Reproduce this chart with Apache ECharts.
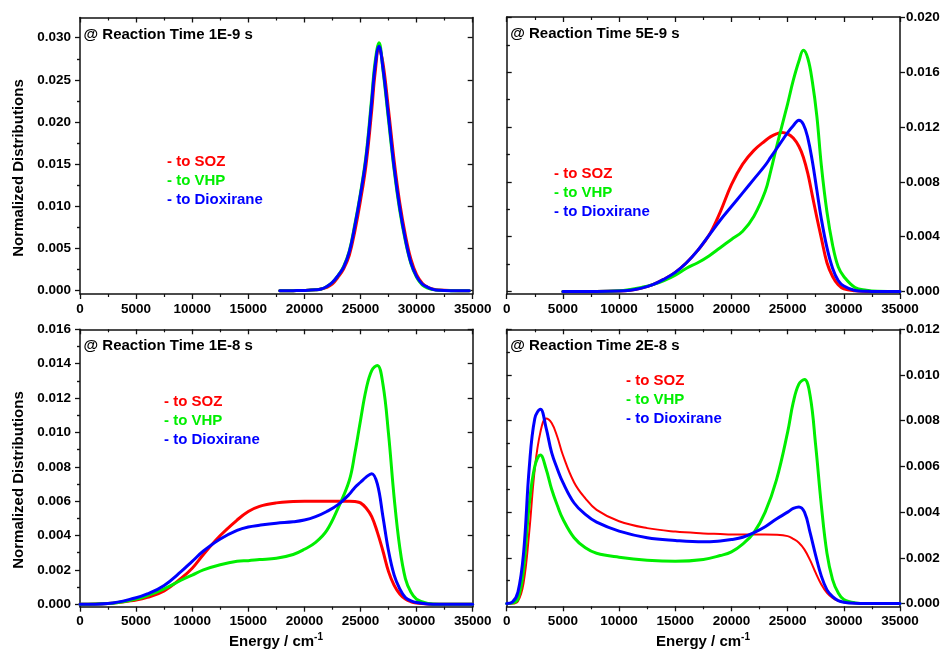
<!DOCTYPE html>
<html>
<head>
<meta charset="utf-8">
<title>Normalized Distributions vs Energy</title>
<script src="https://cdn.jsdelivr.net/npm/echarts@6/dist/echarts.min.js"></script>
<style>
  html, body { margin: 0; padding: 0; background: #ffffff; }
  #chart { width: 944px; height: 652px; }
</style>
</head>
<body>
<div id="chart"></div>
<script>
// ---------- data ----------
// Reaction time 1E-9 s
const energy1 = [17800, 19000, 20000, 21000, 21500, 22000, 22500, 23000, 23500, 24000, 24500, 25000, 25500, 26000, 26300, 26650, 27000, 27500, 28000, 28500, 29000, 29500, 30000, 30500, 31000, 31500, 32000, 33000, 34700];
const soz1 = [0, 0.00001, 0.00003, 0.0001, 0.0002, 0.0004, 0.0008, 0.0016, 0.0026, 0.0042, 0.0071, 0.0107, 0.0150, 0.0214, 0.0258, 0.0287, 0.0270, 0.0214, 0.0154, 0.0104, 0.0066, 0.0037, 0.0019, 0.0009, 0.0004, 0.00018, 0.00008, 0.00002, 0];
const vhp1 = [0, 0.00001, 0.00003, 0.0001, 0.0002, 0.0005, 0.0010, 0.0018, 0.0029, 0.0047, 0.0079, 0.0116, 0.0161, 0.0229, 0.0271, 0.0294, 0.0262, 0.0202, 0.0143, 0.0095, 0.0059, 0.0032, 0.0016, 0.0007, 0.0003, 0.00013, 0.00005, 0.00001, 0];
const diox1 = [0, 0.00001, 0.00003, 0.0001, 0.0002, 0.0005, 0.0010, 0.0018, 0.0028, 0.0046, 0.0077, 0.0114, 0.0158, 0.0224, 0.0266, 0.0290, 0.0264, 0.0206, 0.0146, 0.0098, 0.0061, 0.0033, 0.0017, 0.0008, 0.0004, 0.00015, 0.00006, 0.00001, 0];

// Reaction time 5E-9 s
const energy2 = [5000, 8000, 10000, 11000, 12000, 13000, 14000, 15000, 16000, 17000, 18000, 19000, 20000, 21000, 22000, 23000, 23500, 24000, 24500, 25000, 25500, 26000, 26400, 26800, 27200, 27600, 28000, 28500, 29000, 29500, 30000, 31000, 32000, 33000, 35000];
const soz2 = [0, 0, 0.00003, 0.0001, 0.00025, 0.0005, 0.0009, 0.0014, 0.0021, 0.0030, 0.0041, 0.0058, 0.0078, 0.0093, 0.0103, 0.0110, 0.0113, 0.0115, 0.0116, 0.0115, 0.0112, 0.0106, 0.0098, 0.0086, 0.0070, 0.0054, 0.0039, 0.0021, 0.0011, 0.0005, 0.0002, 0.00005, 0.00001, 0, 0];
const vhp2 = [0, 0, 0.00005, 0.00015, 0.0003, 0.0005, 0.0008, 0.0012, 0.0017, 0.0021, 0.0026, 0.0032, 0.0038, 0.0044, 0.0055, 0.0073, 0.0088, 0.0105, 0.0121, 0.0137, 0.0154, 0.0168, 0.0176, 0.0170, 0.0153, 0.0128, 0.0092, 0.0058, 0.0034, 0.0018, 0.0011, 0.0003, 0.0001, 0.00002, 0];
const diox2 = [0, 0, 0.00003, 0.0001, 0.00025, 0.0005, 0.0009, 0.0014, 0.0021, 0.0030, 0.0041, 0.0052, 0.0062, 0.0072, 0.0082, 0.0092, 0.0098, 0.0104, 0.0110, 0.0116, 0.0121, 0.0125, 0.0122, 0.0112, 0.0095, 0.0074, 0.0053, 0.0032, 0.0017, 0.0008, 0.0004, 0.00008, 0.00002, 0, 0];

// Reaction time 1E-8 s
const energy3 = [0, 2500, 5000, 6000, 7500, 9000, 10000, 11000, 12500, 14000, 15000, 16000, 17500, 19000, 20000, 21000, 22000, 23000, 24000, 24500, 25000, 25500, 26000, 26500, 27000, 27500, 28000, 28500, 29000, 29500, 30000, 31000, 32000, 35000];
const soz3 = [0, 0.00004, 0.00025, 0.0004, 0.00078, 0.0015, 0.0021, 0.0029, 0.0040, 0.0049, 0.0054, 0.0057, 0.0059, 0.00598, 0.0060, 0.0060, 0.0060, 0.0060, 0.0060, 0.00598, 0.0059, 0.0056, 0.0051, 0.0042, 0.0031, 0.0019, 0.0011, 0.0006, 0.0003, 0.00015, 0.00008, 0.00002, 0, 0];
const vhp3 = [0, 0.00004, 0.0003, 0.0005, 0.0009, 0.0014, 0.0017, 0.0020, 0.0023, 0.0025, 0.00254, 0.0026, 0.00268, 0.0029, 0.0032, 0.0036, 0.0043, 0.0056, 0.0072, 0.0088, 0.0107, 0.0125, 0.0136, 0.0139, 0.0128, 0.0099, 0.0062, 0.0033, 0.0015, 0.0007, 0.0003, 0.00005, 0, 0];
const diox3 = [0, 0.00005, 0.00038, 0.0006, 0.0011, 0.0019, 0.0025, 0.0031, 0.0038, 0.0043, 0.0045, 0.0046, 0.00472, 0.0048, 0.0049, 0.0051, 0.0054, 0.0058, 0.0064, 0.0068, 0.0071, 0.0074, 0.0076, 0.0070, 0.0051, 0.0031, 0.0017, 0.0009, 0.0004, 0.0002, 0.0001, 0.00002, 0, 0];

// Reaction time 2E-8 s
const energy4 = [0, 500, 1000, 1500, 2000, 2500, 3000, 3500, 4000, 4500, 5000, 6000, 7000, 8000, 10000, 12500, 15000, 17500, 19000, 20000, 21000, 22000, 23000, 24000, 25000, 25500, 26000, 26500, 27000, 27500, 28000, 28500, 29000, 29500, 30000, 31000, 32000, 35000];
const soz4 = [0, 0, 0.0001, 0.0009, 0.0031, 0.0059, 0.0075, 0.0081, 0.0079, 0.0073, 0.0065, 0.0053, 0.0046, 0.0041, 0.0036, 0.0033, 0.00315, 0.00307, 0.00304, 0.00302, 0.00302, 0.00302, 0.00302, 0.00301, 0.00295, 0.00283, 0.00266, 0.00236, 0.0019, 0.00134, 0.00083, 0.00047, 0.00025, 0.00012, 0.00006, 0.00001, 0, 0];
const vhp4 = [0, 0.00002, 0.0002, 0.0015, 0.0043, 0.0060, 0.0065, 0.0059, 0.0050, 0.0043, 0.0037, 0.00288, 0.00244, 0.0022, 0.00203, 0.0019, 0.00185, 0.00193, 0.0021, 0.00226, 0.0026, 0.0031, 0.0040, 0.0054, 0.0075, 0.0088, 0.0096, 0.0098, 0.0091, 0.0069, 0.0043, 0.0022, 0.00105, 0.00047, 0.00018, 0.00003, 0, 0];
const diox4 = [0, 0.00006, 0.0005, 0.0022, 0.0059, 0.0081, 0.0085, 0.0077, 0.0066, 0.0059, 0.0053, 0.0044, 0.0039, 0.00356, 0.00317, 0.00288, 0.00276, 0.0027, 0.00274, 0.0028, 0.0029, 0.0031, 0.00336, 0.0037, 0.0040, 0.00416, 0.00423, 0.0040, 0.0031, 0.0021, 0.0012, 0.0006, 0.0003, 0.00013, 0.00006, 0.00001, 0, 0];

// panel captions and legend texts
const panelTitles = ['@ Reaction Time 1E-9 s', '@ Reaction Time 5E-9 s', '@ Reaction Time 1E-8 s', '@ Reaction Time 2E-8 s'];
const seriesNames = ['- to SOZ', '- to VHP', '- to Dioxirane'];

// tick labels of the value axes (major) and the minor tick positions
const yTicks1 = [0, 0.005, 0.010, 0.015, 0.020, 0.025, 0.030];
const yMinor1 = [0.0025, 0.0075, 0.0125, 0.0175, 0.0225, 0.0275];
const yTicks2 = [0, 0.004, 0.008, 0.012, 0.016, 0.020];
const yMinor2 = [0.002, 0.006, 0.010, 0.014, 0.018];
const yTicks3 = [0, 0.002, 0.004, 0.006, 0.008, 0.010, 0.012, 0.014, 0.016];
const yMinor3 = [0.001, 0.003, 0.005, 0.007, 0.009, 0.011, 0.013, 0.015];
const yTicks4 = [0, 0.002, 0.004, 0.006, 0.008, 0.010, 0.012];
const yMinor4 = [0.001, 0.003, 0.005, 0.007, 0.009, 0.011];

// ---------- layout & style ----------
const FONT = '"Liberation Sans", Arial, Helvetica, sans-serif';
const COLORS = ['#ff0000', '#00ee00', '#0000ff'];
const AX = '#111111';

const panels = [
  { grid: { left: 80, top: 17.5, width: 392.7, height: 276.5 }, yMin: -0.00039, yMax: 0.0324, ticks: yTicks1, minor: yMinor1, side: 'left',
    energy: energy1, series: [soz1, vhp1, diox1], widths: [3, 3, 3], legend: [167, 162] },
  { grid: { left: 506.7, top: 17, width: 393.3, height: 277 }, yMin: -0.00018, yMax: 0.02003, ticks: yTicks2, minor: yMinor2, side: 'right',
    energy: energy2, series: [soz2, vhp2, diox2], widths: [3, 3, 3], legend: [554, 173.5] },
  { grid: { left: 80, top: 329.3, width: 392.7, height: 277.4 }, yMin: -0.00014, yMax: 0.016, ticks: yTicks3, minor: yMinor3, side: 'left',
    energy: energy3, series: [soz3, vhp3, diox3], widths: [3, 3, 3], legend: [164, 401.5] },
  { grid: { left: 506.7, top: 329.3, width: 393.3, height: 277 }, yMin: -0.00012, yMax: 0.012, ticks: yTicks4, minor: yMinor4, side: 'right',
    energy: energy4, series: [soz4, vhp4, diox4], widths: [2, 3, 3], legend: [626, 381] }
];

const grids = [], xAxes = [], yAxes = [], series = [], graphics = [];

panels.forEach((p, g) => {
  grids.push(Object.assign({ containLabel: false }, p.grid));

  const baseX = {
    type: 'value', gridIndex: g, min: 0, max: 35000, interval: 5000,
    splitLine: { show: false },
    axisLine: { show: true, onZero: false, lineStyle: { color: AX, width: 1.5 } },
    axisTick: { show: true, length: 5, lineStyle: { color: AX, width: 1.3 } },
    minorTick: { show: true, splitNumber: 2, length: 3, lineStyle: { color: AX, width: 1.2 } },
    minorSplitLine: { show: false }
  };
  // bottom axis with labels
  xAxes.push(Object.assign({}, baseX, {
    position: 'bottom',
    axisLabel: { show: true, margin: 8, color: '#000', fontFamily: FONT, fontWeight: 'bold', fontSize: 13.5,
      formatter: v => String(v) }
  }));
  // top frame axis, inward ticks
  xAxes.push(Object.assign({}, baseX, {
    position: 'top',
    axisTick: { show: true, inside: true, length: 5, lineStyle: { color: AX, width: 1.3 } },
    axisLabel: { show: false }
  }));

  const other = p.side === 'left' ? 'right' : 'left';
  const baseY = {
    type: 'value', gridIndex: g, min: p.yMin, max: p.yMax,
    splitLine: { show: false },
    axisLine: { show: true, onZero: false, lineStyle: { color: AX, width: 1.5 } }
  };
  // labelled value axis with major ticks
  yAxes.push(Object.assign({}, baseY, {
    position: p.side,
    axisTick: { show: true, length: 5, customValues: p.ticks, lineStyle: { color: AX, width: 1.3 } },
    axisLabel: {
      show: true, customValues: p.ticks, margin: p.side === 'left' ? 9 : 6,
      color: '#000', fontFamily: FONT, fontWeight: 'bold', fontSize: 13.5,
      formatter: v => v.toFixed(3)
    }
  }));
  // minor ticks on the labelled side
  yAxes.push(Object.assign({}, baseY, {
    position: p.side,
    axisLine: { show: false },
    axisTick: { show: true, length: 3, customValues: p.minor, lineStyle: { color: AX, width: 1.2 } },
    axisLabel: { show: false }
  }));
  // frame axis on the opposite side, inward ticks
  yAxes.push(Object.assign({}, baseY, {
    position: other,
    axisTick: { show: true, inside: true, length: 5, customValues: p.ticks, lineStyle: { color: AX, width: 1.3 } },
    axisLabel: { show: false }
  }));
  yAxes.push(Object.assign({}, baseY, {
    position: other,
    axisLine: { show: false },
    axisTick: { show: true, inside: true, length: 3, customValues: p.minor, lineStyle: { color: AX, width: 1.2 } },
    axisLabel: { show: false }
  }));

  p.series.forEach((vals, k) => {
    series.push({
      type: 'line',
      name: seriesNames[k],
      xAxisIndex: 2 * g,
      yAxisIndex: 4 * g,
      data: p.energy.map((e, i) => [e, vals[i]]),
      showSymbol: false,
      smooth: 0.4,
      silent: true,
      z: 2 + k,
      lineStyle: { color: COLORS[k], width: p.widths[k], join: 'round', cap: 'round' },
      itemStyle: { color: COLORS[k] }
    });
  });

  // panel caption
  graphics.push({
    type: 'text', x: p.grid.left + 3.5, y: p.grid.top + 17,
    style: { text: panelTitles[g], fill: '#000', font: 'bold 15px ' + FONT, textVerticalAlign: 'middle', verticalAlign: 'middle' }
  });
  // legend texts
  seriesNames.forEach((t, k) => {
    graphics.push({
      type: 'text', x: p.legend[0], y: p.legend[1] + k * 19,
      style: { text: t, fill: COLORS[k], font: 'bold 15px ' + FONT, textVerticalAlign: 'middle', verticalAlign: 'middle' }
    });
  });
});

// axis titles
const yTitle = 'Normalized Distributions';
const xTitleMain = 'Energy / cm';
const xTitleSup = '-1';
[168, 480].forEach(cy => {
  graphics.push({
    type: 'text', x: 19, y: cy, rotation: Math.PI / 2,
    style: { text: yTitle, fill: '#000', font: 'bold 15px ' + FONT, textAlign: 'center', align: 'center', textVerticalAlign: 'middle', verticalAlign: 'middle' }
  });
});
[276, 703].forEach(cx => {
  graphics.push({
    type: 'text', x: cx, y: 642,
    style: {
      text: '{a|' + xTitleMain + '}{b|' + xTitleSup + '}',
      textAlign: 'center', align: 'center', textVerticalAlign: 'middle', verticalAlign: 'middle',
      rich: {
        a: { fontFamily: FONT, fontWeight: 'bold', fontSize: 15, fill: '#000', color: '#000' },
        b: { fontFamily: FONT, fontWeight: 'bold', fontSize: 10, fill: '#000', color: '#000', padding: [0, 0, 9, 0] }
      }
    }
  });
});

const chart = echarts.init(document.getElementById('chart'), null, { renderer: 'canvas' });
chart.setOption({
  backgroundColor: '#ffffff',
  animation: false,
  grid: grids,
  xAxis: xAxes,
  yAxis: yAxes,
  series: series,
  graphic: graphics
});
</script>
</body>
</html>
